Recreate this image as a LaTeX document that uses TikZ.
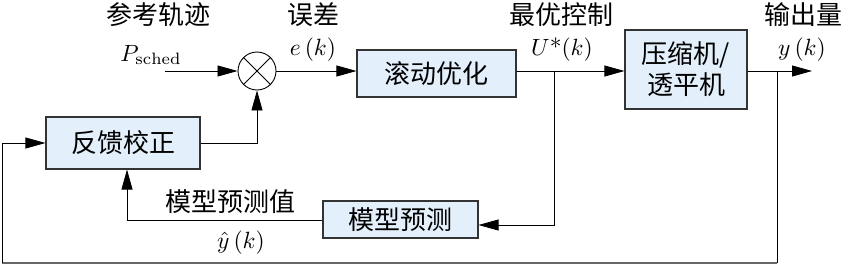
\documentclass[tikz,border=0pt]{standalone}
\usepackage{fontspec}
\newfontfamily\cjk{Noto Sans CJK SC}
\usetikzlibrary{arrows.meta}
\definecolor{boxfill}{HTML}{E3EFFA}
\definecolor{boxline}{HTML}{333333}
\definecolor{loopgray}{HTML}{666666}
\newcommand{\mylarge}[1]{\scalebox{2.35}{#1}}
\begin{document}
\begin{tikzpicture}[x=1pt,y=-1pt,
  blk/.style={draw=boxline,line width=1.1pt,fill=boxfill,inner sep=0pt,font=\cjk\fontsize{26}{31}\selectfont,align=center},
  lbl/.style={inner sep=0pt,font=\cjk\fontsize{26}{31}\selectfont},
  mlbl/.style={inner sep=0pt},
  wire/.style={line width=0.8pt,black},
  arr/.style={wire,-{Triangle[length=20pt,width=11pt]}}]
\useasboundingbox (0,0) rectangle (848,279);
% blocks
\node[draw,circle,line width=0.9pt,minimum size=38pt,inner sep=0pt] (sum) at (257,71) {};
\draw[line width=0.8pt] (sum.45) -- (sum.225) (sum.135) -- (sum.315);
\node[blk,minimum width=159pt,minimum height=47pt] (roll) at (436.5,73.5) {滚动优化};
\node[blk,minimum width=122pt,minimum height=79pt] (comp) at (686,69.5) {压缩机/\\透平机};
\node[blk,minimum width=154pt,minimum height=52pt] (fb) at (123,143) {反馈校正};
\node[blk,minimum width=155pt,minimum height=37pt] (model) at (400.5,219.5) {模型预测};
% coordinates
\coordinate (pin) at (165,71);
\coordinate (j1) at (554,71);
\coordinate (j2) at (777,71);
\coordinate (pout) at (812,71);
\coordinate (mr) at (554,225);
\coordinate (ml) at (127,220);
\coordinate (fbr) at (257,143);
\coordinate (bl) at (2,263);
\coordinate (br) at (777,263);
% wires
\draw[arr] (pin) -- (sum.west);
\draw[arr] (sum.east) -- (roll.west |- sum.east);
\draw[arr] (roll.east |- sum.east) -- (comp.west |- sum.east);
\draw[arr] (j1) -- (mr) -- (model.east |- mr);
\draw[arr] (comp.east |- sum.east) -- (pout);
\draw[arr] (fb.east |- fbr) -- (fbr) -- (sum.south);
\draw[arr] (model.west |- ml) -- (ml) -- (ml |- fb.south);
\draw[wire] (j2) -- (br);
\draw[line width=2pt,loopgray] (br) -- (bl);
\draw[arr] (bl) -- (bl |- fb.west) -- (fb.west);
% labels
\node[lbl] at (158,15) {参考轨迹};
\node[mlbl] at (151,55) {\mylarge{$P_{\mathrm{sched}}$}};
\node[lbl] at (313,15) {误差};
\node[mlbl] at (313,50) {\mylarge{$e\,(k)$}};
\node[lbl] at (561,15) {最优控制};
\node[mlbl] at (562,50) {\mylarge{$U$*$(k)$}};
\node[lbl] at (803,15) {输出量};
\node[mlbl] at (802,50) {\mylarge{$y\,(k)$}};
\node[lbl] at (230,202) {模型预测值};
\node[mlbl] at (241,243) {\mylarge{$\hat{y}\,(k)$}};
\end{tikzpicture}
\end{document}
